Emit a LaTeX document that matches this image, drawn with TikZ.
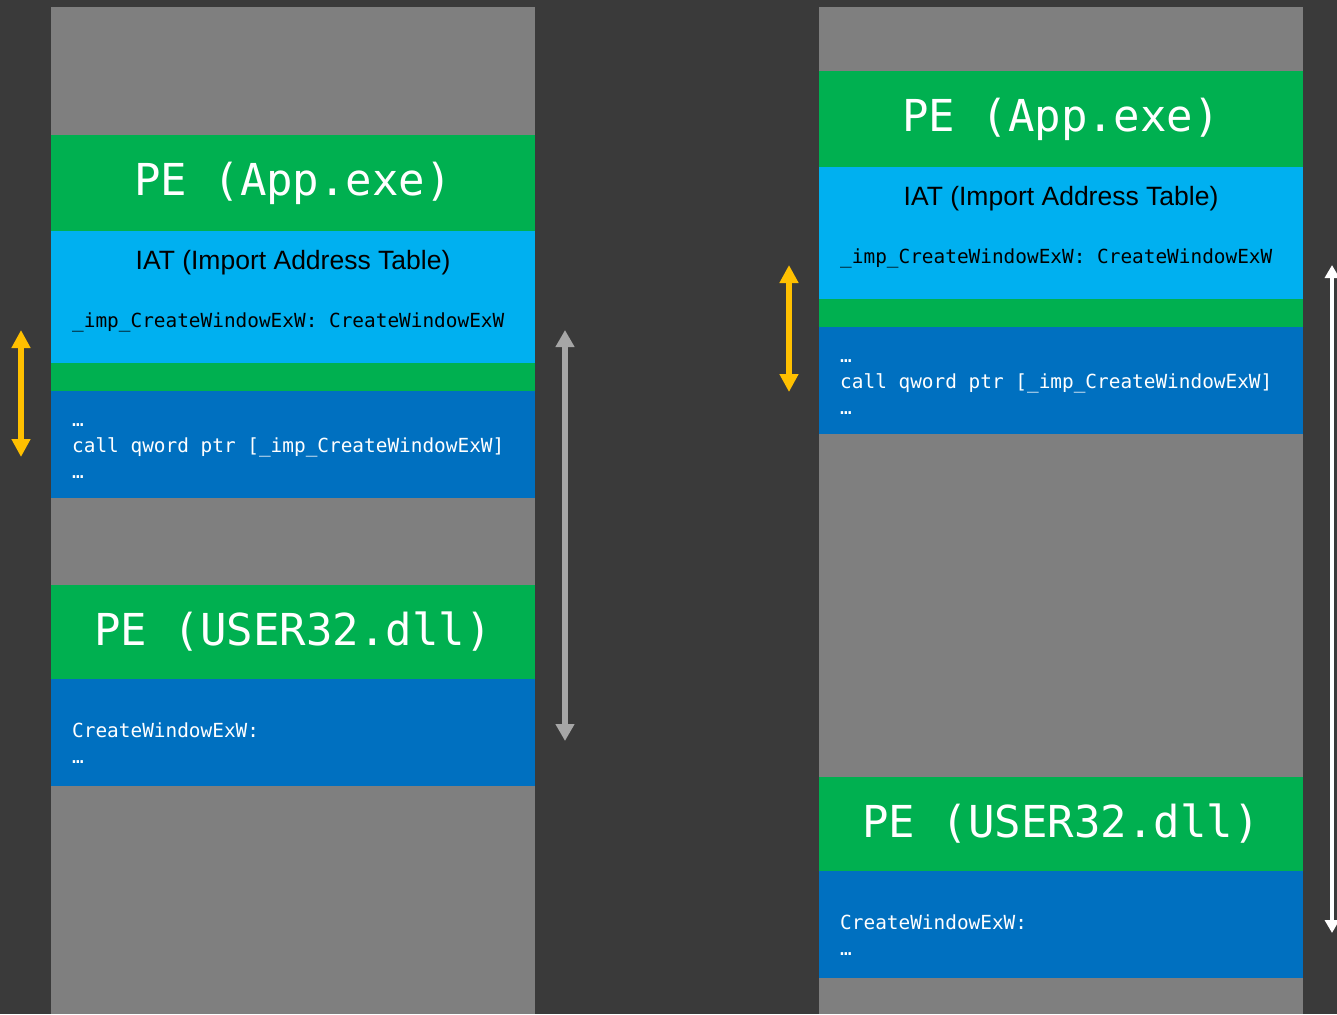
\documentclass[tikz,border=0pt]{standalone}
\usepackage{fontspec}
\setmainfont{Liberation Sans}
\setmonofont{DejaVu Sans Mono}
\usetikzlibrary{arrows.meta,positioning}
\usepackage{xcolor}
\definecolor{bgdark}{HTML}{3A3A3A}
\definecolor{memgray}{HTML}{7F7F7F}
\definecolor{pegreen}{HTML}{00B050}
\definecolor{iatblue}{HTML}{00B0F0}
\definecolor{codeblue}{HTML}{0070C0}
\definecolor{offyellow}{HTML}{FFC000}
\definecolor{spangray}{HTML}{A6A6A6}
\tikzset{memcol/.style={fill=memgray, draw=none}}

\begin{document}
\begin{tikzpicture}[
  x=1pt, y=-1pt,
  block/.style={anchor=north west, minimum width=484pt, inner sep=0pt, outer sep=0pt, draw=none},
  pehead/.style={block, fill=pegreen, minimum height=96pt, text=white, font=\fontsize{44}{50}\selectfont\ttfamily},
  iat/.style={block, fill=iatblue, minimum height=132pt},
  gap/.style={block, fill=pegreen, minimum height=28pt},
  code/.style={block, fill=codeblue, minimum height=107pt},
  iattitle/.style={text=black, inner sep=0pt, font=\fontsize{26.5}{30}\selectfont},
  asm/.style={anchor=west, align=left, inner sep=0pt, text=white, font=\fontsize{19.4}{26}\selectfont\ttfamily},
  entry/.style={asm, text=black},
  offset/.style={draw=offyellow, line width=6pt, {Triangle[width=18pt,length=18pt]}-{Triangle[width=18pt,length=18pt]}},
  span/.style={draw=spangray, line width=6pt, {Triangle[width=18pt,length=17pt]}-{Triangle[width=18pt,length=17pt]}},
  spanw/.style={draw=white, line width=4pt, {Triangle[width=14pt,length=13pt]}-{Triangle[width=14pt,length=13pt]}}
]
\useasboundingbox[fill=bgdark] (0,0) rectangle (1337,1014);

% left: both modules close together
\fill[memcol] (51,7) rectangle (535,1014);
\node[pehead] (app1) at (51,135) {PE (App.exe)};
\node[iat, below=0pt of app1.south west, anchor=north west] (iat1) {};
\node[gap, below=0pt of iat1.south west, anchor=north west] (gap1) {};
\node[code, below=0pt of gap1.south west, anchor=north west] (call1) {};
\node[pehead, minimum height=94pt] (user1) at (51,585) {PE (USER32.dll)};
\node[code, below=0pt of user1.south west, anchor=north west] (fn1) {};

\node[iattitle] (iatt1) at ([yshift=-32pt]iat1.north) {IAT (Import Address Table)};
\node[entry] (imp1) at ([xshift=21pt,yshift=-25pt]iat1.west) {\_imp\_CreateWindowExW: CreateWindowExW};
\node[asm] (callt1) at ([xshift=21pt,yshift=-7pt]call1.west) {…\\call qword ptr [\_imp\_CreateWindowExW]\\…};
\node[asm] (fnt1) at ([xshift=21pt,yshift=-11pt]fn1.west) {CreateWindowExW:\\…};

% right: USER32 loaded far away
\fill[memcol] (819,7) rectangle (1303,1014);
\node[pehead] (app2) at (819,71) {PE (App.exe)};
\node[iat, below=0pt of app2.south west, anchor=north west] (iat2) {};
\node[gap, below=0pt of iat2.south west, anchor=north west] (gap2) {};
\node[code, below=0pt of gap2.south west, anchor=north west] (call2) {};
\node[pehead, minimum height=94pt] (user2) at (819,777) {PE (USER32.dll)};
\node[code, below=0pt of user2.south west, anchor=north west] (fn2) {};

\node[iattitle] (iatt2) at ([yshift=-32pt]iat2.north) {IAT (Import Address Table)};
\node[entry] (imp2) at ([xshift=21pt,yshift=-25pt]iat2.west) {\_imp\_CreateWindowExW: CreateWindowExW};
\node[asm] (callt2) at ([xshift=21pt,yshift=-7pt]call2.west) {…\\call qword ptr [\_imp\_CreateWindowExW]\\…};
\node[asm] (fnt2) at ([xshift=21pt,yshift=-11pt]fn2.west) {CreateWindowExW:\\…};

% distances
\coordinate (off1a) at (21,330);
\coordinate (off1b) at (21,457);
\coordinate (span1a) at (565,330);
\coordinate (span1b) at (565,741);
\coordinate (off2a) at (789,265);
\coordinate (off2b) at (789,392);
\coordinate (span2a) at (1332,265);
\coordinate (span2b) at (1332,933);
\draw[offset] (off1a) -- (off1b);
\draw[span] (span1a) -- (span1b);
\draw[offset] (off2a) -- (off2b);
\draw[spanw] (span2a) -- (span2b);
\end{tikzpicture}
\end{document}
